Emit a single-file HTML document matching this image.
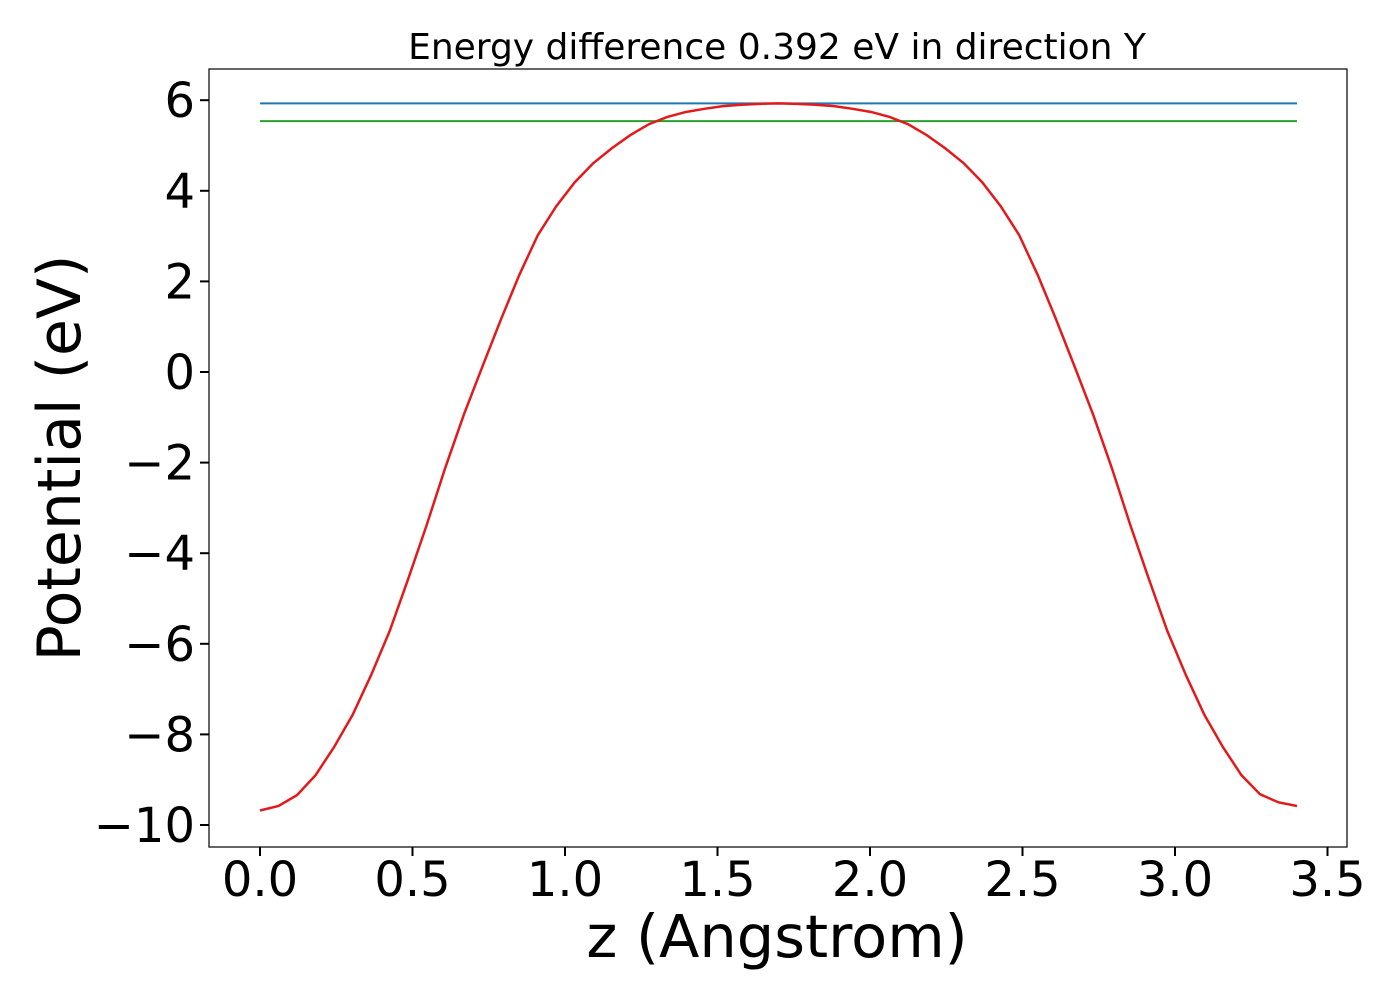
<!DOCTYPE html>
<html><head><meta charset="utf-8"><style>
body{margin:0;background:#fff}
svg{display:block;font-family:"DejaVu Sans","Liberation Sans",sans-serif}
</style></head><body>
<svg id="chart" width="1400" height="1000">
<rect x="0" y="0" width="1400" height="1000" fill="#fff"/>
<text x="777" y="59" font-size="36" text-anchor="middle">Energy difference 0.392 eV in direction Y</text>
<g id="marks"></g>
<rect x="209" y="69" width="1138" height="778" fill="none" stroke="#000" stroke-width="1.2"/>
<g id="xt"></g><g id="yt"></g>
<text x="777" y="957" font-size="59" text-anchor="middle">z (Angstrom)</text>
<text transform="translate(80,458) rotate(-90)" font-size="60" text-anchor="middle">Potential (eV)</text>
</svg>
<script>
const leftHalf=[-9.68,-9.58,-9.34,-8.90,-8.28,-7.57,-6.69,-5.72,-4.57,-3.38,-2.12,-0.95,0.11,1.15,2.14,3.02,3.66,4.19,4.61,4.94,5.23,5.47,5.63,5.74,5.81,5.87,5.90,5.92,5.93];
const rightHalf=[5.92,5.90,5.87,5.81,5.74,5.63,5.47,5.23,4.94,4.61,4.19,3.66,3.02,2.14,1.15,0.11,-0.95,-2.12,-3.38,-4.57,-5.72,-6.69,-7.57,-8.28,-8.90,-9.32,-9.50,-9.58];
const potential=leftHalf.concat(rightHalf);
const zStep=3.4/56;
const maxLevel=[5.93];
const diffLevel=[5.93-0.392];
const xTicks=[0,0.5,1.0,1.5,2.0,2.5,3.0,3.5];
const yTicks=[6,4,2,0,-2,-4,-6,-8,-10];
const ns="http://www.w3.org/2000/svg";
const X=v=>260+v*305;
const Y=v=>372-v*45.3;
const marks=document.getElementById('marks');
function line(x1,y1,x2,y2,c,name,g){const l=document.createElementNS(ns,'line');l.setAttribute('x1',x1);l.setAttribute('y1',y1);l.setAttribute('x2',x2);l.setAttribute('y2',y2);l.setAttribute('stroke',c);l.setAttribute('stroke-width',2);


g.appendChild(l);}
const zMax=zStep*(potential.length-1);
line(X(0),Y(maxLevel[0]),X(zMax),Y(maxLevel[0]),'#1f77b4','max-energy-line',marks);
line(X(0),Y(diffLevel[0]),X(zMax),Y(diffLevel[0]),'#2ca02c','reference-energy-line',marks);
const p=document.createElementNS(ns,'polyline');
p.setAttribute('points',potential.map((v,i)=>X(i*zStep)+','+Y(v)).join(' '));
p.setAttribute('fill','none');p.setAttribute('stroke','#e31a1c');p.setAttribute('stroke-width',2.5);


marks.appendChild(p);
const xt=document.getElementById('xt'),yt=document.getElementById('yt');
xTicks.forEach(t=>{line(X(t),847,X(t),856,'#000','x-tick',xt);
const s=document.createElementNS(ns,'text');s.setAttribute('x',X(t));s.setAttribute('y',896);s.setAttribute('font-size',48);s.setAttribute('text-anchor','middle');s.textContent=t.toFixed(1);


xt.appendChild(s);});
yTicks.forEach(t=>{line(200,Y(t),209,Y(t),'#000','y-tick',yt);
const s=document.createElementNS(ns,'text');s.setAttribute('x',195);s.setAttribute('y',Y(t)+17);s.setAttribute('font-size',48);s.setAttribute('text-anchor','end');s.textContent=(t<0?'\u2212':'')+Math.abs(t);


yt.appendChild(s);});
</script>
</body></html>
